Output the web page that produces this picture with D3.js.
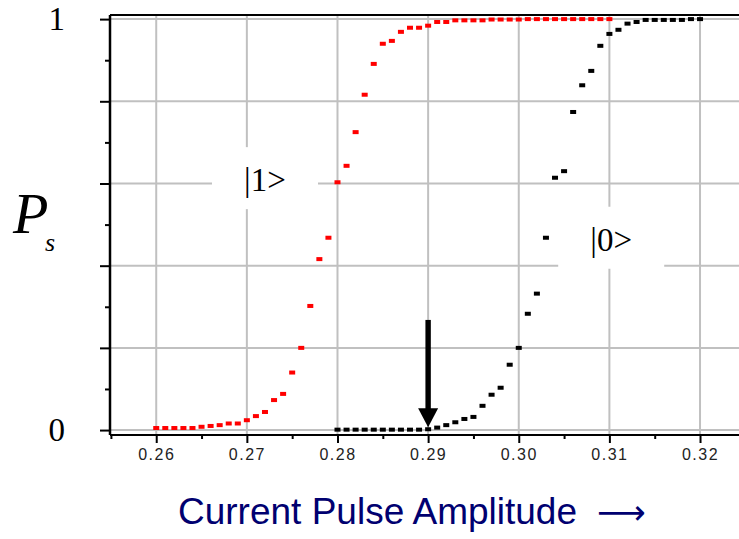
<!DOCTYPE html>
<html>
<head>
<meta charset="utf-8">
<script src="https://cdn.jsdelivr.net/npm/d3@7"></script>
<style>
  body { margin: 0; background: #fff; }
  svg { display: block; }
</style>
</head>
<body>
<div id="chart"></div>
<script>
// ==== data ====
const state1X = [0.260, 0.261, 0.262, 0.263, 0.264, 0.265, 0.266, 0.267, 0.268, 0.269,
                 0.270, 0.271, 0.272, 0.273, 0.274, 0.275, 0.276, 0.277, 0.278, 0.279,
                 0.280, 0.281, 0.282, 0.283, 0.284, 0.285, 0.286, 0.287, 0.288, 0.289,
                 0.290, 0.291, 0.292, 0.293, 0.294, 0.295, 0.296, 0.297, 0.298, 0.299,
                 0.300, 0.301, 0.302, 0.303, 0.304, 0.305, 0.306, 0.307, 0.308, 0.309, 0.310];
const state1P = [0.005, 0.005, 0.005, 0.005, 0.005, 0.008, 0.010, 0.012, 0.016, 0.016,
                 0.024, 0.034, 0.044, 0.073, 0.088, 0.140, 0.200, 0.302, 0.416, 0.468,
                 0.603, 0.643, 0.725, 0.816, 0.891, 0.940, 0.947, 0.969, 0.979, 0.979,
                 0.984, 0.993, 0.993, 0.997, 0.997, 0.997, 0.997, 0.999, 0.999, 0.999,
                 0.999, 1.000, 1.000, 1.000, 1.000, 1.000, 1.000, 1.000, 1.000, 1.000, 1.000];

const state0X = [0.280, 0.281, 0.282, 0.283, 0.284, 0.285, 0.286, 0.287, 0.288, 0.289,
                 0.290, 0.291, 0.292, 0.293, 0.294, 0.295, 0.296, 0.297, 0.298, 0.299,
                 0.300, 0.301, 0.302, 0.303, 0.304, 0.305, 0.306, 0.307, 0.308, 0.309,
                 0.310, 0.311, 0.312, 0.313, 0.314, 0.315, 0.316, 0.317, 0.318, 0.319, 0.320];
const state0P = [0.001, 0.001, 0.001, 0.001, 0.001, 0.001, 0.001, 0.001, 0.001, 0.001,
                 0.002, 0.006, 0.012, 0.019, 0.027, 0.032, 0.059, 0.086, 0.103, 0.159,
                 0.200, 0.283, 0.332, 0.468, 0.614, 0.630, 0.774, 0.839, 0.874, 0.935,
                 0.964, 0.974, 0.989, 0.993, 0.998, 0.998, 0.998, 0.998, 0.998, 1.000, 1.000];

const xTicks = [0.26, 0.27, 0.28, 0.29, 0.30, 0.31, 0.32];
const xMinorTicks = [0.255, 0.265, 0.275, 0.285, 0.295, 0.305, 0.315];
const yTicks = [0, 0.2, 0.4, 0.6, 0.8, 1];
const yMinorTicks = [0.1, 0.3, 0.5, 0.7, 0.9];
const yTickLabels = { 0: "0", 1: "1" };

const stateLabels = [
    { text: "|1>", x: 0.2720, y: 0.613 },
    { text: "|0>", x: 0.3102, y: 0.468 }
];
const arrowAt = { x: 0.29, from: 0.268, to: 0.007 };

// ==== layout ====
const margin = { top: 15, right: 0, bottom: 104, left: 110 };
const width = 739 - margin.left - margin.right;
const height = 539 - margin.top - margin.bottom;

const svg = d3.select("#chart")
    .append("svg")
    .attr("width", 739)
    .attr("height", 539);

const g = svg.append("g")
    .attr("transform", `translate(${margin.left},${margin.top})`);

const xScale = d3.scaleLinear()
    .domain([0.2549, 0.3243])
    .range([0, width]);

const yScale = d3.scaleLinear()
    .domain([-0.012, 1.01])
    .range([height, 0]);

// grid
g.append("g")
    .selectAll("line")
    .data(xTicks)
    .join("line")
    .attr("x1", d => xScale(d)).attr("x2", d => xScale(d))
    .attr("y1", 0).attr("y2", height)
    .attr("stroke", "#c0c0c0")
    .attr("stroke-width", 2);

g.append("g")
    .selectAll("line")
    .data(yTicks)
    .join("line")
    .attr("x1", 0).attr("x2", width)
    .attr("y1", d => yScale(d)).attr("y2", d => yScale(d))
    .attr("stroke", "#c0c0c0")
    .attr("stroke-width", 2);

// white boxes behind the state labels
const labels = g.append("g").selectAll("g")
    .data(stateLabels)
    .join("g")
    .attr("transform", d => `translate(${xScale(d.x)},${yScale(d.y)})`);

labels.append("rect")
    .attr("x", -53).attr("y", -31)
    .attr("width", 106).attr("height", 62)
    .attr("fill", "#fff");

labels.append("text")
    .attr("y", 13)
    .attr("text-anchor", "middle")
    .attr("font-family", "'Liberation Serif', 'Times New Roman', serif")
    .attr("font-size", 33)
    .attr("fill", "#000")
    .text(d => d.text);

// points
function drawSeries(xs, ps, color) {
    g.append("g")
        .selectAll("rect")
        .data(xs.map((x, i) => ({ x, p: ps[i] })))
        .join("rect")
        .attr("x", d => xScale(d.x) - 3)
        .attr("y", d => yScale(d.p) - 2)
        .attr("width", 6)
        .attr("height", 4)
        .attr("fill", color);
}
drawSeries(state0X, state0P, "#000");
drawSeries(state1X, state1P, "#ff0000");

// arrow
const ax = xScale(arrowAt.x);
const yTip = yScale(arrowAt.to);
g.append("rect")
    .attr("x", ax - 2.7)
    .attr("y", yScale(arrowAt.from))
    .attr("width", 5.4)
    .attr("height", yTip - 18 - yScale(arrowAt.from))
    .attr("fill", "#000");
g.append("path")
    .attr("d", `M${ax - 10},${yTip - 19} L${ax + 10},${yTip - 19} L${ax},${yTip} Z`)
    .attr("fill", "#000");

// axes
const xAxis = d3.axisBottom(xScale)
    .tickValues(xTicks)
    .tickSize(8)
    .tickPadding(6)
    .tickFormat(d3.format(".2f"));

const xMinor = d3.axisBottom(xScale)
    .tickValues(xMinorTicks)
    .tickSize(4)
    .tickFormat("");

const yAxis = d3.axisLeft(yScale)
    .tickValues(yTicks)
    .tickSize(10)
    .tickPadding(35)
    .tickFormat(d => yTickLabels[d] || "");

const yMinor = d3.axisLeft(yScale)
    .tickValues(yMinorTicks)
    .tickSize(5)
    .tickFormat("");

g.append("g")
    .attr("class", "axis x-axis")
    .attr("transform", `translate(0,${height})`)
    .call(xAxis)
    .call(a => a.selectAll("text")
        .attr("font-family", "'Liberation Sans', Arial, sans-serif")
        .attr("font-size", 16)
        .attr("letter-spacing", 1.5)
        .attr("fill", "#222"));

g.append("g")
    .attr("transform", `translate(0,${height})`)
    .call(xMinor);

g.append("g")
    .attr("class", "axis y-axis")
    .call(yAxis)
    .call(a => a.selectAll("text")
        .attr("font-family", "'Liberation Serif', 'Times New Roman', serif")
        .attr("font-size", 33)
        .attr("fill", "#000"));

g.append("g").call(yMinor);

svg.selectAll(".domain").attr("stroke-width", 2).attr("d", null);
svg.selectAll(".tick line").attr("stroke", "#000").attr("stroke-width", 2);

// frame lines
g.append("line")
    .attr("x1", 0).attr("x2", width).attr("y1", 0).attr("y2", 0)
    .attr("stroke", "#000").attr("stroke-width", 2);
g.append("line")
    .attr("x1", 0).attr("x2", width).attr("y1", height).attr("y2", height)
    .attr("stroke", "#000").attr("stroke-width", 2);
g.append("line")
    .attr("x1", 0).attr("x2", 0).attr("y1", 0).attr("y2", height)
    .attr("stroke", "#000").attr("stroke-width", 2.5);

// axis titles
const pTitle = svg.append("text")
    .attr("x", 13)
    .attr("y", 233)
    .attr("font-family", "'Liberation Serif', 'Times New Roman', serif")
    .attr("font-style", "italic")
    .attr("fill", "#000");
pTitle.append("tspan").attr("font-size", 58).text("P");
pTitle.append("tspan").attr("font-size", 26).attr("x", 45).attr("y", 251).text("s");

const xTitle = svg.append("text")
    .attr("x", 178)
    .attr("y", 524)
    .attr("font-family", "'Liberation Sans', Arial, sans-serif")
    .attr("font-size", 37)
    .attr("fill", "#000070");
xTitle.append("tspan").text("Current Pulse Amplitude ");
xTitle.append("tspan")
    .attr("x", 597)
    .attr("font-family", "'DejaVu Sans', sans-serif")
    .attr("font-size", 34)
    .text("\u27F6");
</script>
</body>
</html>
